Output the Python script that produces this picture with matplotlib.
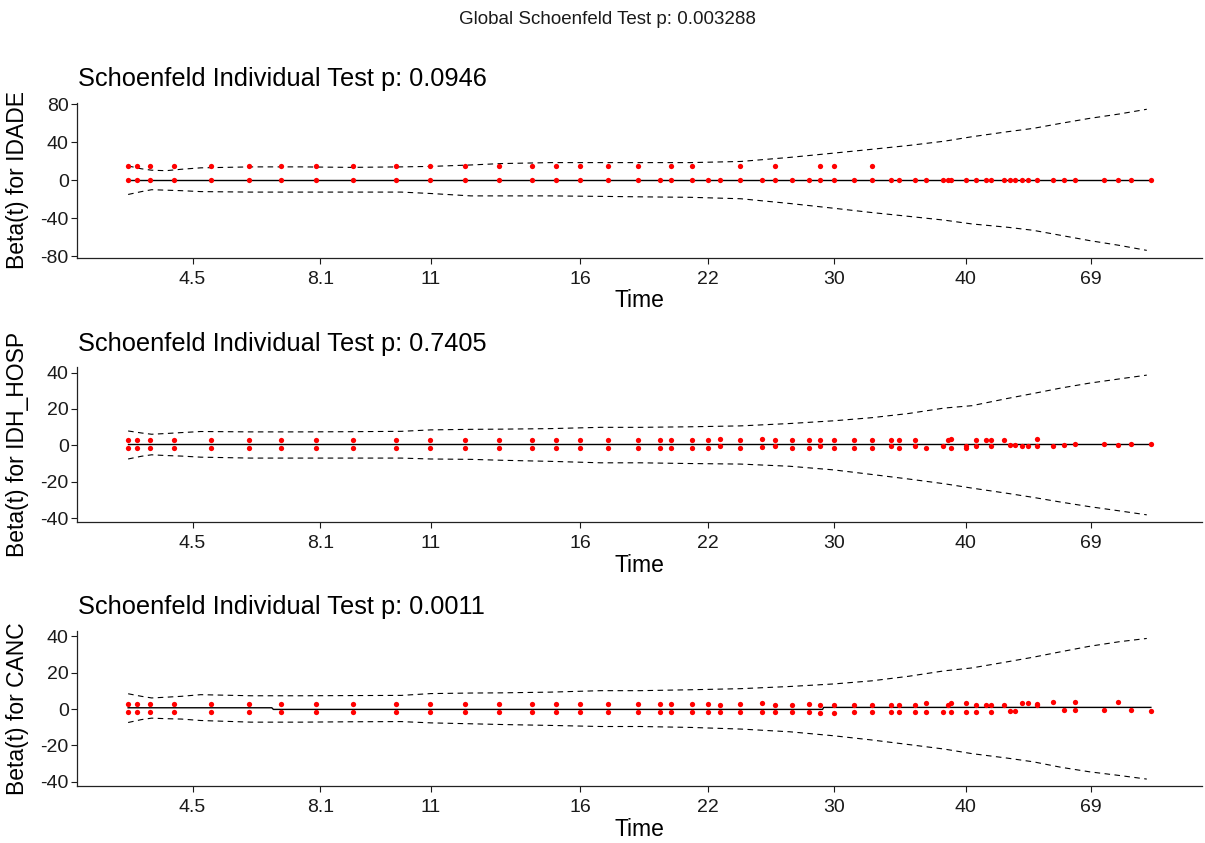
"""Scaled Schoenfeld residuals vs transformed time, one panel per covariate."""

import numpy as np
import matplotlib

matplotlib.use("Agg")
import matplotlib.pyplot as plt  # noqa: E402

plt.rcParams["font.family"] = ["Liberation Sans", "DejaVu Sans"]
plt.rcParams["axes.unicode_minus"] = False

GLOBAL_P = "0.003288"

# transformed (KM) event times shared by all panels
times = [0.000, 0.009, 0.021, 0.045, 0.081, 0.118, 0.149, 0.184, 0.220, 0.262,
         0.295, 0.329, 0.363, 0.395, 0.418, 0.442, 0.469, 0.499, 0.520, 0.531,
         0.551, 0.567, 0.579, 0.598, 0.620, 0.632, 0.649, 0.666, 0.676, 0.690,
         0.710, 0.727, 0.746, 0.754, 0.769, 0.780, 0.797, 0.802, 0.805, 0.819,
         0.829, 0.839, 0.844, 0.856, 0.862, 0.867, 0.874, 0.880, 0.889, 0.904,
         0.915, 0.926, 0.954, 0.968, 0.981, 1.000]
tick_pos = [0.063, 0.188, 0.296, 0.442, 0.567, 0.690, 0.819, 0.941]
tick_labels = ["4.5", "8.1", "11", "16", "22", "30", "40", "69"]

nan = np.nan

# two residuals per event time (nan where there is only one)
idade_a = [14.7] * 18 + [nan, 14.7, 14.7, nan, nan, 14.7, nan, 14.7, nan, nan,
                         14.7, 14.7, nan, 14.7] + [nan] * 24
idade_b = [0.0] * 56

hosp_a = [2.8] * 18 + [3.1, 3.1, 3.1, 3.1, 3.3, 3.1, 3.5, 3.1, 2.8, 3.1,
                       3.1, 3.1, 2.8, 2.8, 2.8, 2.8, 2.8, nan, nan, 2.8,
                       3.5, -0.55, 2.8, 2.8, 2.8, 2.8, nan, nan, nan, nan,
                       3.5, nan, nan, nan, nan, nan, nan, nan]
hosp_b = [-1.5] * 18 + [-1.3, -1.3, -1.3, -1.3, -0.55, -1.3, -0.9, -0.4, -1.3, -1.3,
                        -0.4, -1.3, -1.3, -1.3, -0.55, -1.3, -0.55, -1.3, -0.55, nan,
                        -1.5, -1.3, -0.55, nan, -0.55, nan, 0.2, 0.2, -0.55, -0.55,
                        -0.55, -0.55, 0.2, 0.55, 0.9, 0.2, 0.9, 0.9]

canc_a = [2.8] * 18 + [2.8, 2.8, 2.8, 2.8, 2.4, 2.8, 3.1, 2.4, 2.4, 2.8,
                       2.0, 2.4, 2.4, 2.4, 2.4, 2.4, 2.4, 3.1, nan, 2.4,
                       3.1, 3.1, 2.4, 2.4, 2.4, 2.4, nan, nan, 3.1, 3.1,
                       3.0, 3.9, nan, 3.9, nan, 3.9, nan, nan]
canc_b = [-1.7] * 18 + [-1.7, -1.7, -1.7, -1.7, -1.7, -1.7, -1.7, -1.7, -1.7, -1.7,
                        -2.2, -2.2, -1.7, -1.7, -1.7, -1.7, -1.7, -1.7, -1.7, nan,
                        -1.7, -1.7, -1.7, nan, -1.7, nan, -0.9, -0.9, nan, nan,
                        2.3, nan, -0.4, -0.4, -0.4, nan, -0.4, -1.1]

# smoothed beta(t) and its +/- 2 se band
band_t = [0.000, 0.013, 0.023, 0.037, 0.052, 0.071, 0.120, 0.169, 0.218, 0.267,
          0.296, 0.335, 0.365, 0.413, 0.462, 0.501, 0.550, 0.599, 0.647, 0.690,
          0.727, 0.763, 0.798, 0.825, 0.860, 0.885, 0.912, 0.940, 0.969, 0.996]

idade_hi = [15, 12, 10.5, 10, 11.5, 13, 14, 14, 13.5, 14, 14.5, 16, 17.5, 18.5, 18.5,
            18.5, 18.5, 19.7, 24, 28.5, 32.5, 36.5, 41, 45.7, 51, 54.5, 59.8, 65, 69.6, 74.6]
idade_lo = [-15, -12, -10, -10.5, -11, -12, -12.5, -12.5, -12.5, -12.5, -14, -16.5, -16.5,
            -16.5, -17, -17.5, -18, -19.5, -24.5, -29.5, -34, -38, -42, -46, -49.5, -52.7,
            -58, -63.5, -68.5, -73.8]

hosp_hi = [7.9, 6.8, 6.1, 6.5, 7.0, 7.6, 7.4, 7.4, 7.5, 7.7, 8.5, 8.8, 8.9, 9.2, 9.9,
           9.9, 10.2, 10.7, 12, 13.5, 15.2, 17.5, 20.5, 21.8, 25.8, 28.5, 31.5, 34.2, 36.5, 38.6]
hosp_lo = [-7.5, -6, -5.2, -5.6, -5.9, -6.5, -7, -7, -7, -7, -7.5, -7.7, -8.2, -8.8, -9.6,
           -9.6, -10, -10.3, -11.5, -13.5, -16, -18.5, -21.1, -23.5, -26.4, -28.6, -31.2,
           -33.7, -36, -38.2]

canc_hi = [8.4, 7.0, 6.1, 6.5, 7.0, 7.9, 7.3, 7.3, 7.4, 7.5, 8.5, 8.8, 8.9, 9.3, 10.1,
           10.1, 10.6, 11.2, 12.4, 13.8, 15.5, 18.0, 21.0, 22.6, 26.0, 28.5, 31.5, 34.5, 37.0, 38.8]
canc_lo = [-7.4, -5.8, -5.0, -5.3, -5.5, -6.3, -7.2, -7.2, -7.0, -6.9, -7.6, -8.1, -8.5,
           -9.0, -9.6, -9.6, -10.1, -11.0, -12.5, -14.7, -17.0, -19.5, -22.0, -24.5, -27.0,
           -29.0, -32.0, -34.5, -36.5, -38.5]

idade_fit_t = [0.0, 1.0]
idade_fit = [0.0, 0.0]
hosp_fit_t = [0.0, 1.0]
hosp_fit = [0.5, 0.5]
canc_fit_t = [0.0, 0.1405, 0.142, 0.679, 0.680, 1.0]
canc_fit = [0.7, 0.7, -0.2, -0.2, 0.9, 0.9]

panels = [
    ("IDADE", "0.0946", idade_a, idade_b, idade_fit_t, idade_fit, idade_hi, idade_lo,
     [-80, -40, 0, 40, 80], (-81.5, 81.5)),
    ("IDH_HOSP", "0.7405", hosp_a, hosp_b, hosp_fit_t, hosp_fit, hosp_hi, hosp_lo,
     [-40, -20, 0, 20, 40], (-42.3, 42.9)),
    ("CANC", "0.0011", canc_a, canc_b, canc_fit_t, canc_fit, canc_hi, canc_lo,
     [-40, -20, 0, 20, 40], (-42.3, 42.9)),
]

W, H = 1205, 843
fig = plt.figure(figsize=(W / 100, H / 100), dpi=100)
fig.text(607 / W, 1 - 19 / H, f"Global Schoenfeld Test p: {GLOBAL_P}",
         ha="center", va="center", fontsize=13.5, color="#1a1a1a")

tops = [102.7, 367.3, 631.0]
for (name, p, ra, rb, ft, fy, hi, lo, yt, ylim), top in zip(panels, tops):
    ax = fig.add_axes([77 / W, 1 - (top + 155) / H, 1125 / W, 155 / H])
    ax.plot(ft, fy, color="black", lw=1.0, zorder=2)
    for band in (hi, lo):
        ax.plot(band_t, band, color="black", lw=0.8, ls=(0, (5, 4)), zorder=2)
    for r in (ra, rb):
        ax.plot(times, r, ls="none", marker="o", ms=3.8, mfc="red", mec="red",
                mew=0, zorder=3)
    ax.set_xlim(-0.05, 1.05)
    ax.set_ylim(*ylim)
    ax.set_xticks(tick_pos)
    ax.set_xticklabels(tick_labels)
    ax.set_yticks(yt)
    ax.tick_params(labelsize=14, colors="#1a1a1a", length=4, width=0.8)
    ax.tick_params(axis="x", pad=5.5)
    ax.tick_params(axis="y", pad=2)
    for s in ("top", "right"):
        ax.spines[s].set_visible(False)
    for s in ("left", "bottom"):
        ax.spines[s].set_linewidth(0.9)
        ax.spines[s].set_color("#222222")
    ax.set_xlabel("Time", fontsize=16.5, labelpad=1)
    ax.set_ylabel(f"Beta(t) for {name}", fontsize=16.5)
    ax.yaxis.set_label_coords(-0.0425, 0.5)
    ax.set_title(f"Schoenfeld Individual Test p: {p}", loc="left", fontsize=18.3,
                 pad=12, x=0.001)

fig.savefig("out.png", dpi=100)
